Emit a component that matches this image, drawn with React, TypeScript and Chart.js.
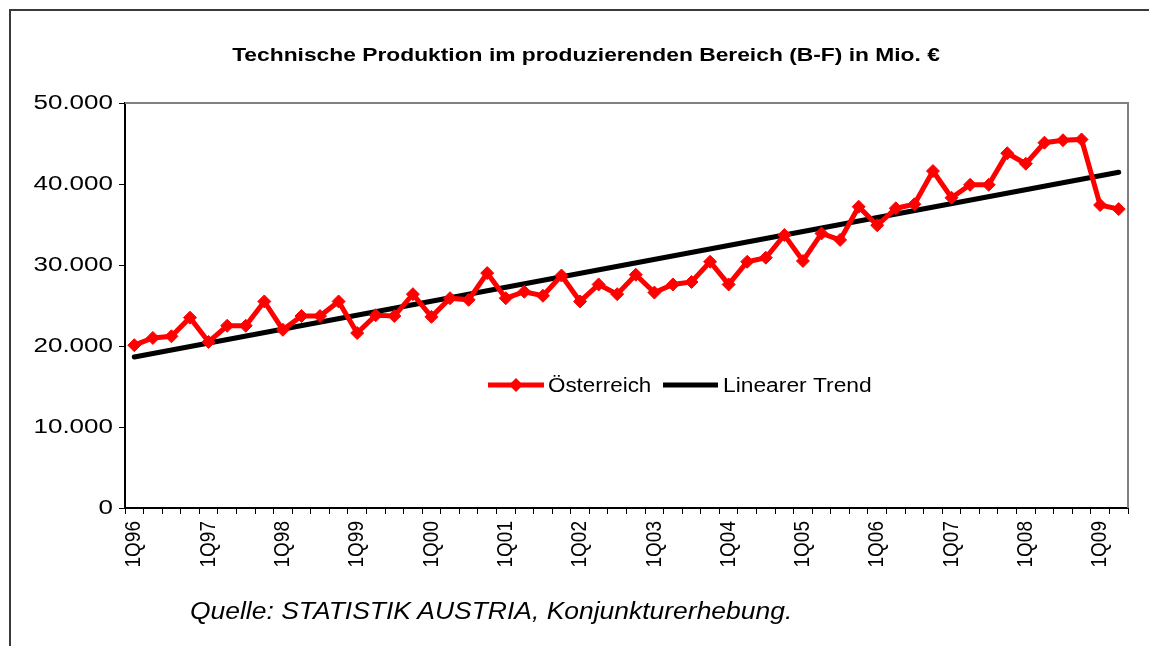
import React, { useEffect, useRef } from "react";
import { Chart, registerables } from "chart.js";

Chart.register(...registerables);

const years = ["96", "97", "98", "99", "00", "01", "02", "03", "04", "05", "06", "07", "08", "09"];
const quarters = ["1", "2", "3", "4"];
const categories: string[] = [];
years.forEach((y) => quarters.forEach((q) => categories.push(`${q}Q${y}`)));
categories.splice(54);

const oesterreich = [
  20100, 21000, 21200, 23500, 20500, 22500, 22500, 25500, 22000, 23700,
  23700, 25500, 21600, 23800, 23700, 26400, 23600, 25900, 25700, 29000,
  25900, 26700, 26200, 28700, 25500, 27600, 26400, 28800, 26600, 27600,
  27900, 30400, 27600, 30400, 30900, 33700, 30500, 33900, 33100, 37200,
  34900, 37000, 37500, 41600, 38300, 39900, 39900, 43800, 42500, 45100,
  45400, 45500, 37400, 36900,
];

const trendStart = 18650;
const trendEnd = 41450;

const yTicks = [0, 10000, 20000, 30000, 40000, 50000];

const FONT = "Arial, 'Liberation Sans', sans-serif";

function stretchedText(ctx: any, text: string, x: number, y: number, sx: number, align: string) {
  ctx.save();
  ctx.translate(x, y);
  ctx.scale(sx, 1);
  ctx.textAlign = align;
  ctx.fillText(text, 0, 0);
  ctx.restore();
}

const legendPlugin = {
  id: "customLegend",
  afterDraw(chart: any) {
    const ctx = chart.ctx;
    ctx.save();
    const y = 385;
    ctx.strokeStyle = "#ff0000";
    ctx.lineWidth = 5;
    ctx.beginPath();
    ctx.moveTo(488, y);
    ctx.lineTo(544, y);
    ctx.stroke();
    ctx.fillStyle = "#ff0000";
    ctx.beginPath();
    ctx.moveTo(516, y - 7);
    ctx.lineTo(523, y);
    ctx.lineTo(516, y + 7);
    ctx.lineTo(509, y);
    ctx.closePath();
    ctx.fill();
    ctx.fillStyle = "#000";
    ctx.font = `20px ${FONT}`;
    ctx.textBaseline = "middle";
    stretchedText(ctx, "Österreich", 548, y + 1, 1.12, "left");
    ctx.strokeStyle = "#000";
    ctx.lineWidth = 5;
    ctx.beginPath();
    ctx.moveTo(663, y);
    ctx.lineTo(718, y);
    ctx.stroke();
    stretchedText(ctx, "Linearer Trend", 723, y + 1, 1.14, "left");
    ctx.restore();
  },
};

const axisLabelPlugin = {
  id: "axisLabels",
  afterDraw(chart: any) {
    const ctx = chart.ctx;
    const ys = chart.scales.y;
    const xs = chart.scales.x;
    ctx.save();
    ctx.fillStyle = "#000";
    ctx.font = `20px ${FONT}`;
    ctx.textBaseline = "middle";
    yTicks.forEach((v) => {
      const py = ys.getPixelForValue(v);
      stretchedText(ctx, v.toLocaleString("de-DE"), 113, py, 1.3, "right");
    });
    ctx.font = `19px ${FONT}`;
    categories.forEach((c, i) => {
      if (i % 4 !== 0) return;
      const px = xs.getPixelForValue(i);
      ctx.save();
      ctx.translate(px, xs.top + 13);
      ctx.scale(1.18, 1);
      ctx.rotate(-Math.PI / 2);
      ctx.textAlign = "right";
      ctx.textBaseline = "middle";
      ctx.fillText(c, 0, 0);
      ctx.restore();
    });
    ctx.restore();
  },
};

const framePlugin = {
  id: "plotFrame",
  beforeDatasetsDraw(chart: any) {
    const { ctx, chartArea } = chart;
    ctx.save();
    ctx.strokeStyle = "#808080";
    ctx.lineWidth = 2;
    ctx.beginPath();
    ctx.moveTo(chartArea.left, chartArea.top);
    ctx.lineTo(chartArea.right, chartArea.top);
    ctx.lineTo(chartArea.right, chartArea.bottom);
    ctx.stroke();
    ctx.restore();
  },
};

export default function App() {
  const ref = useRef<HTMLCanvasElement | null>(null);

  useEffect(() => {
    if (!ref.current) return;
    const trendValues: (number | null)[] = categories.map(() => null);
    trendValues[0] = trendStart;
    trendValues[categories.length - 1] = trendEnd;

    const chart = new Chart(ref.current, {
      type: "line",
      data: {
        labels: categories,
        datasets: [
          {
            label: "Österreich",
            data: oesterreich,
            borderColor: "#ff0000",
            backgroundColor: "#ff0000",
            borderWidth: 5,
            pointStyle: "rectRot",
            pointRadius: 6.5,
            pointBorderWidth: 1,
            pointBackgroundColor: "#ff0000",
            pointBorderColor: "#ff0000",
            tension: 0,
          },
          {
            label: "Linearer Trend",
            data: trendValues,
            borderColor: "#000",
            borderWidth: 5,
            pointRadius: 0,
            spanGaps: true,
            borderCapStyle: "round",
          },
        ],
      },
      options: {
        responsive: false,
        animation: false,
        layout: { padding: { left: 0, right: 21, top: 103, bottom: 0 } },
        plugins: {
          legend: { display: false },
          title: { display: false },
          tooltip: { enabled: false },
        },
        scales: {
          x: {
            type: "category",
            offset: true,
            grid: {
              offset: true,
              drawOnChartArea: false,
              drawTicks: true,
              tickLength: 6,
              color: "#000",
              lineWidth: 1,
            },
            border: { display: true, color: "#000", width: 2 },
            ticks: {
              display: false,
              autoSkip: false,
            },
            afterFit: (scale: any) => {
              scale.height = 138;
            },
          },
          y: {
            min: 0,
            max: 50000,
            afterBuildTicks: (scale: any) => {
              scale.ticks = yTicks.map((v) => ({ value: v }));
            },
            grid: {
              drawOnChartArea: false,
              drawTicks: true,
              tickLength: 6,
              color: "#000",
            },
            border: { display: true, color: "#000", width: 2 },
            ticks: {
              display: false,
            },
            afterFit: (scale: any) => {
              scale.width = 125;
            },
          },
        },
      },
      plugins: [framePlugin, legendPlugin, axisLabelPlugin],
    });
    return () => chart.destroy();
  }, []);

  return (
    <div
      style={{
        position: "absolute",
        left: 0,
        top: 0,
        width: 1149,
        height: 646,
        overflow: "hidden",
        background: "#fff",
        fontFamily: FONT,
      }}
    >
      <div
        style={{
          position: "absolute",
          left: 9,
          top: 9,
          width: 1200,
          height: 700,
          border: "2px solid #3a3a3a",
          boxSizing: "border-box",
        }}
      />
      <canvas
        ref={ref}
        width={1149}
        height={646}
        style={{ position: "absolute", left: 0, top: 0, width: 1149, height: 646 }}
      />
      <div
        style={{
          position: "absolute",
          left: 0,
          width: 1172,
          top: 42,
          textAlign: "center",
          fontWeight: "bold",
          fontSize: 19,
          lineHeight: "26px",
          color: "#000",
          transform: "scaleX(1.2)",
          transformOrigin: "586px 0",
        }}
      >
        Technische Produktion im produzierenden Bereich (B-F) in Mio. €
      </div>
      <div
        style={{
          position: "absolute",
          left: 190,
          top: 596,
          fontStyle: "italic",
          fontSize: 23,
          lineHeight: "30px",
          color: "#000",
          whiteSpace: "nowrap",
          transform: "scaleX(1.15)",
          transformOrigin: "0 0",
        }}
      >
        Quelle: STATISTIK AUSTRIA, Konjunkturerhebung.
      </div>
    </div>
  );
}
